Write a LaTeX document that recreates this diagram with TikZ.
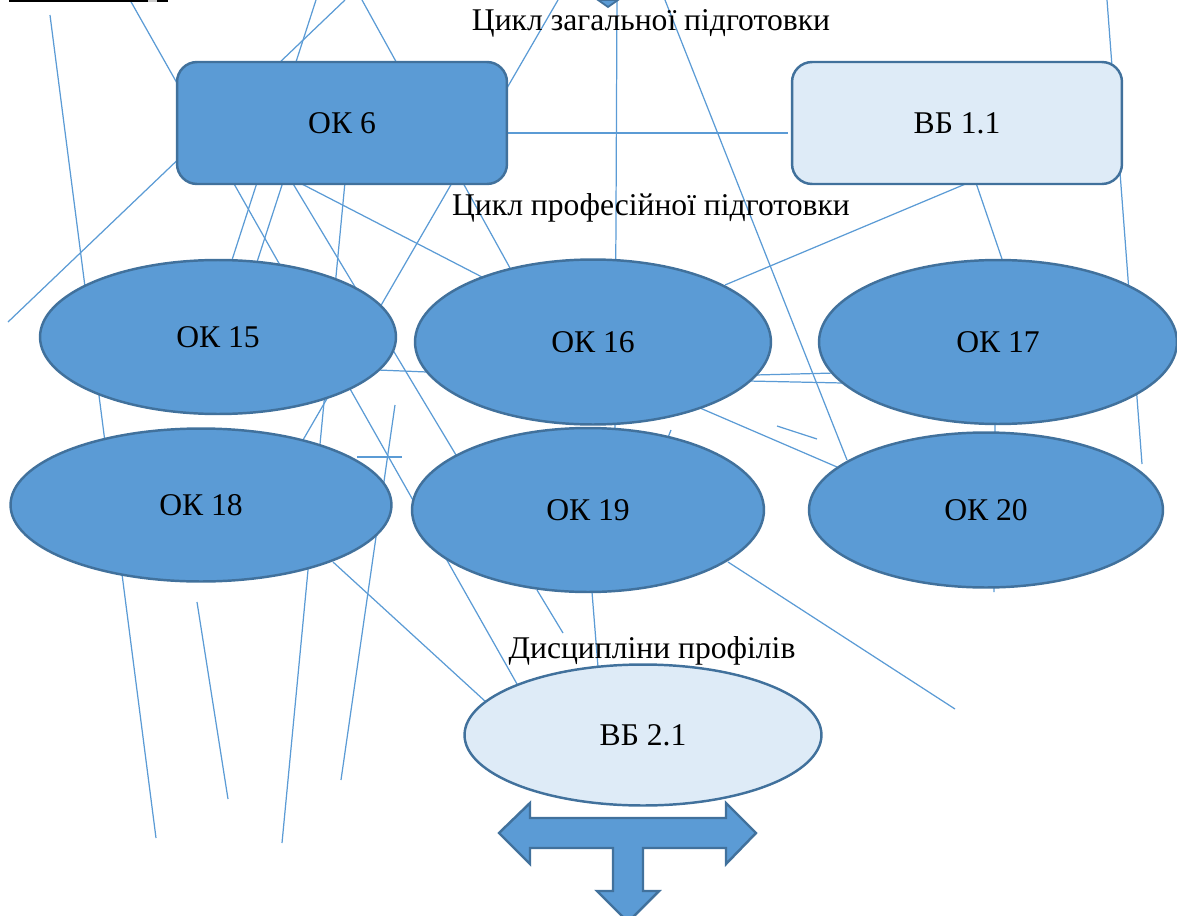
\documentclass[tikz,border=0pt]{standalone}
\usepackage{fontspec}
\setmainfont{Liberation Serif}
\usetikzlibrary{shapes.geometric}
\definecolor{okblue}{HTML}{5B9BD5}
\definecolor{okedge}{HTML}{41719C}
\definecolor{vblight}{HTML}{DEEBF7}
\tikzset{
  okbox/.style={draw=okedge, fill=okblue, line width=1.4pt, rounded corners=0.4cm,
    minimum width=6.6cm, minimum height=2.44cm},
  vbbox/.style={okbox, fill=vblight},
  okoval/.style={ellipse, draw=okedge, fill=okblue, line width=1.4pt, inner sep=0pt},
  vboval/.style={okoval, fill=vblight},
  wire/.style={draw=okblue, line width=0.7pt},
  cycletitle/.style={anchor=base, inner sep=0pt}
}
\begin{document}
\begin{tikzpicture}[x=0.02cm, y=-0.02cm, font=\fontsize{18}{22}\selectfont]
    \useasboundingbox (0,0) rectangle (1177,916);
    % stray lines, behind the shapes
    \draw[wire] (50,15) -- (156,838);
    \draw[wire] (130,0) -- (517,684);
    \draw[wire] (345,0) -- (8,322);
    \draw[wire] (316,0) -- (232,260);
    \draw[wire] (362,0) -- (510,268);
    \draw[wire] (558,0) -- (303,440);
    \draw[wire] (617,0) -- (615,428);
    \draw[wire] (665,0) -- (847,460);
    \draw[wire] (507,133) -- (788,133);
    \draw[wire] (1107,0) -- (1142,464);
    \draw[wire] (975,180) -- (725,285);
    \draw[wire] (975,180) -- (1002,259);
    \draw[wire] (283,182) -- (257,262);
    \draw[wire] (292,182) -- (456,455);
    \draw[wire] (298,182) -- (482,277);
    \draw[wire] (345,182) -- (282,843);
    \draw[wire] (378,370) -- (427,372);
    \draw[wire] (755,375) -- (835,373);
    \draw[wire] (748,381) -- (843,383);
    \draw[wire] (700,408) -- (837,467);
    \draw[wire] (777,426) -- (817,439);
    \draw[wire] (671,430) -- (667,440);
    \draw[wire] (995,420) -- (994,592);
    \draw[wire] (728,562) -- (955,709);
    \draw[wire] (357,457) -- (402,457);
    \draw[wire] (395,405) -- (341,780);
    \draw[wire] (333,562) -- (486,702);
    \draw[wire] (197,602) -- (228,799);
    \draw[wire] (537,590) -- (563,633);
    \draw[wire] (592,592) -- (598,667);
    % top edge bits
    \draw[line width=1.5pt] (9,0.5) -- (168,0.5);
    \fill[gray!40] (148,0) rectangle (157,2);
    \draw[draw=okedge, fill=okblue, line width=1pt] (598,0) -- (618,0) -- (608,7) -- cycle;
    % titles
    \node[cycletitle] (zag) at (651,31) {Цикл загальної підготовки};
    \node[cycletitle] (prof) at (651,215) {Цикл професійної підготовки};
    \node[cycletitle] (dysc) at (652,658) {Дисципліни профілів};
    % boxes
    \node[okbox] (ok6) at (342,123) {ОК 6};
    \node[vbbox] (vb11) at (957,123) {ВБ 1.1};
    \node[okoval, minimum width=7.12cm, minimum height=3.08cm] (ok15) at (218,337) {ОК 15};
    \node[okoval, minimum width=7.12cm, minimum height=3.3cm] (ok16) at (593,342) {ОК 16};
    \node[okoval, minimum width=7.16cm, minimum height=3.28cm] (ok17) at (998,342) {ОК 17};
    \node[okoval, minimum width=7.62cm, minimum height=3.06cm] (ok18) at (201,505) {ОК 18};
    \node[okoval, minimum width=7.04cm, minimum height=3.28cm] (ok19) at (588,510) {ОК 19};
    \node[okoval, minimum width=7.08cm, minimum height=3.1cm] (ok20) at (986,510) {ОК 20};
    \node[vboval, minimum width=7.14cm, minimum height=2.82cm] (vb21) at (643,735) {ВБ 2.1};
    % tee arrow under ВБ 2.1
    \draw[draw=okedge, fill=okblue, line width=1.4pt]
      (499,833) -- (530,803) -- (530,818) -- (726,818) -- (726,803) -- (756,833)
      -- (726,864) -- (726,848) -- (643,848) -- (643,891) -- (659,891) -- (628,922)
      -- (597,891) -- (613,891) -- (613,848) -- (530,848) -- (530,864) -- cycle;
\end{tikzpicture}
\end{document}
